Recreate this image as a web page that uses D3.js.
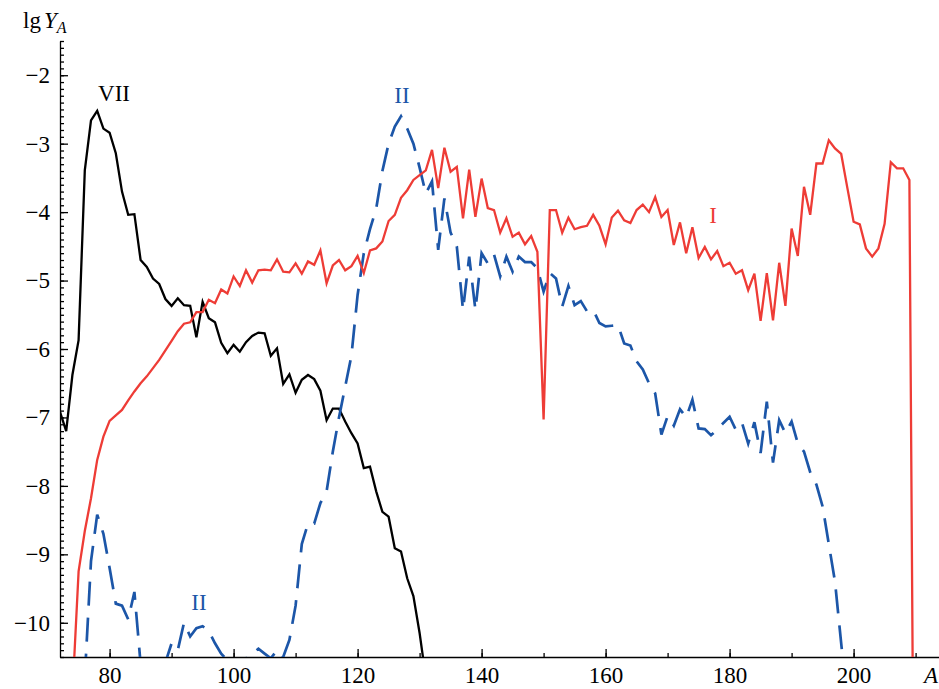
<!DOCTYPE html>
<html>
<head>
<meta charset="utf-8">
<script src="https://cdn.jsdelivr.net/npm/d3@7"></script>
<style>
  body { margin: 0; background: #fff; }
  svg { display: block; font-family: "Liberation Serif", "DejaVu Serif", serif; }
  .axis path, .axis line { stroke: #000; stroke-width: 1.3px; }
</style>
</head>
<body>
<svg width="939" height="689"></svg>
<script>
// mass number A of the first point of each curve, then lg Y_A for A, A+1, ...
var startI = 74,
    seriesI = [
      -11.05, -9.25, -8.66, -8.18, -7.62, -7.28, -7.05, -6.97, -6.89, -6.75,
      -6.62, -6.50, -6.40, -6.28, -6.16, -6.02, -5.88, -5.74, -5.63, -5.61,
      -5.46, -5.46, -5.28, -5.33, -5.13, -5.19, -4.94, -5.08, -4.85, -5.03,
      -4.85, -4.84, -4.85, -4.69, -4.87, -4.88, -4.75, -4.90, -4.72, -4.77,
      -4.56, -5.04, -4.78, -4.70, -4.85, -4.79, -4.64, -4.89, -4.56, -4.53,
      -4.43, -4.13, -4.04, -3.79, -3.68, -3.53, -3.46, -3.39, -3.09, -3.65,
      -3.06, -3.41, -3.34, -4.09, -3.38, -4.07, -3.51, -3.94, -3.97, -4.30,
      -4.09, -4.36, -4.30, -4.47, -4.35, -4.58, -7.03, -3.97, -3.97, -4.30,
      -4.08, -4.25, -4.22, -4.20, -4.04, -4.20, -4.47, -4.08, -3.98, -4.12,
      -4.16, -3.97, -3.89, -4.00, -3.78, -4.07, -3.97, -4.48, -4.15, -4.60,
      -4.22, -4.67, -4.51, -4.69, -4.57, -4.79, -4.74, -4.90, -4.85, -5.14,
      -4.90, -5.59, -4.89, -5.58, -4.74, -5.37, -4.24, -4.64, -3.63, -4.04,
      -3.29, -3.29, -2.95, -3.07, -3.15, -3.65, -4.14, -4.18, -4.53, -4.65,
      -4.53, -4.17, -3.27, -3.36, -3.36, -3.53, -17
    ];

var startII = 76,
    seriesII = [
      -10.8, -9.1, -8.42, -8.7, -9.2, -9.72, -9.75, -9.95, -9.55, -10.6,
      -11.5, -11.5, -11.0, -10.58, -10.3, -10.4, -10.0, -10.2, -10.08, -10.05,
      -10.12, -10.3, -10.45, -10.55, -10.7, -10.65, -10.52, -10.45, -10.38, -10.45,
      -10.52, -10.4, -10.5, -10.25, -9.75, -8.85, -8.55, -8.55, -8.25, -8.08,
      -7.5, -7.0, -6.55, -6.1, -5.21, -4.6, -4.25, -3.95, -3.4, -3.0,
      -2.75, -2.6, -2.78, -3.0, -3.35, -3.73, -3.55, -4.55, -3.8, -4.3,
      -4.5, -5.43, -4.65, -5.43, -4.6, -4.75, -4.62, -4.94, -4.65, -4.87,
      -4.65, -4.73, -4.73, -4.82, -5.16, -4.89, -4.97, -5.38, -5.08, -5.36,
      -5.3, -5.45, -5.43, -5.62, -5.67, -5.66, -5.65, -5.92, -5.95, -6.18,
      -6.3, -6.5, -6.65, -7.25, -6.98, -7.12, -6.88, -7.0, -6.74, -7.16,
      -7.17, -7.26, -7.18, -7.08, -6.99, -7.18, -7.08, -7.38, -7.07, -7.52,
      -6.77, -7.66, -7.04, -7.23, -7.06, -7.38, -7.5, -7.8, -7.98, -8.3,
      -8.85, -9.4, -10.3, -11.2
    ];

var startVII = 72,
    seriesVII = [
      -6.92, -7.2, -6.38, -5.87, -3.39, -2.66, -2.52, -2.78, -2.84, -3.14,
      -3.70, -4.04, -4.03, -4.70, -4.80, -4.97, -5.05, -5.27, -5.37, -5.26,
      -5.36, -5.37, -5.83, -5.31, -5.55, -5.61, -5.91, -6.06, -5.94, -6.04,
      -5.90, -5.81, -5.76, -5.77, -6.10, -5.99, -6.51, -6.37, -6.64, -6.45,
      -6.38, -6.44, -6.61, -7.04, -6.87, -6.87, -7.06, -7.23, -7.38, -7.74,
      -7.72, -8.08, -8.38, -8.45, -8.91, -8.96, -9.35, -9.61, -10.15, -10.8
    ];

var xTicks = [80, 100, 120, 140, 160, 180, 200],
    yTicks = [-2, -3, -4, -5, -6, -7, -8, -9, -10];

function toPoints(start, vals) {
  return vals.map(function(v, i) { return {a: start + i, v: v}; });
}

var svg = d3.select("svg"),
    margin = {top: 41, right: 0, bottom: 32, left: 60},
    width = 939 - margin.left - margin.right,
    height = 689 - margin.top - margin.bottom;

var x = d3.scaleLinear().domain([72, 214]).range([0, 880.4]),
    y = d3.scaleLinear().domain([-10.5, -1.5]).range([height, 0]);

var g = svg.append("g")
  .attr("transform", "translate(" + margin.left + "," + margin.top + ")");

g.append("clipPath").attr("id", "plot")
  .append("rect").attr("x", 0).attr("y", 0).attr("width", width).attr("height", height);

// minor ticks first, then major axes on top
g.append("g").attr("class", "axis")
  .call(d3.axisLeft(y).ticks(90).tickSize(-4).tickSizeOuter(0).tickFormat(""))
  .select(".domain").remove();
g.append("g").attr("class", "axis")
  .attr("transform", "translate(0," + height + ")")
  .call(d3.axisBottom(x).tickValues(d3.range(80, 215, 10)).tickSize(-4).tickSizeOuter(0).tickFormat(""))
  .select(".domain").remove();

var yAxis = g.append("g").attr("class", "axis")
  .call(d3.axisLeft(y).tickValues(yTicks).tickSize(-8).tickSizeOuter(0).tickPadding(10));
var xAxis = g.append("g").attr("class", "axis")
  .attr("transform", "translate(0," + height + ")")
  .call(d3.axisBottom(x).tickValues(xTicks).tickSize(-8).tickSizeOuter(0).tickPadding(10));

[yAxis, xAxis].forEach(function(ax) {
  ax.attr("font-family", "Liberation Serif").attr("font-size", 23);
  ax.selectAll("text").attr("fill", "#000");
});

var line = d3.line()
  .x(function(d) { return x(d.a); })
  .y(function(d) { return y(d.v); });

var lines = g.append("g").attr("clip-path", "url(#plot)");

lines.append("path")
  .datum(toPoints(startVII, seriesVII))
  .attr("fill", "none").attr("stroke", "#000").attr("stroke-width", 2.3)
  .attr("d", line);

lines.append("path")
  .datum(toPoints(startII, seriesII))
  .attr("fill", "none").attr("stroke", "#1c56a8").attr("stroke-width", 2.7)
  .attr("stroke-dasharray", "24,12")
  .attr("d", line);

lines.append("path")
  .datum(toPoints(startI, seriesI))
  .attr("fill", "none").attr("stroke", "#ee3c36").attr("stroke-width", 2.3)
  .attr("d", line);

// axis titles
var yTitle = svg.append("text").attr("x", 23).attr("y", 28).attr("font-size", 23);
yTitle.append("tspan").text("lg");
yTitle.append("tspan").attr("dx", 3).attr("font-style", "italic").text("Y");
yTitle.append("tspan").attr("dy", 5).attr("font-size", 16).attr("font-style", "italic").text("A");

svg.append("text").attr("x", 924).attr("y", 683)
  .attr("font-size", 23).attr("font-style", "italic").text("A");

// curve labels
var labels = [
  {t: "VII", x: 114, y: 101, c: "#000"},
  {t: "II", x: 402, y: 103, c: "#1c56a8"},
  {t: "II", x: 199, y: 610, c: "#1c56a8"},
  {t: "I", x: 713, y: 223, c: "#ee3c36"}
];
svg.selectAll(".lbl").data(labels).enter().append("text")
  .attr("class", "lbl")
  .attr("x", function(d) { return d.x; })
  .attr("y", function(d) { return d.y; })
  .attr("text-anchor", "middle")
  .attr("font-size", 23)
  .attr("fill", function(d) { return d.c; })
  .text(function(d) { return d.t; });
</script>
</body>
</html>
